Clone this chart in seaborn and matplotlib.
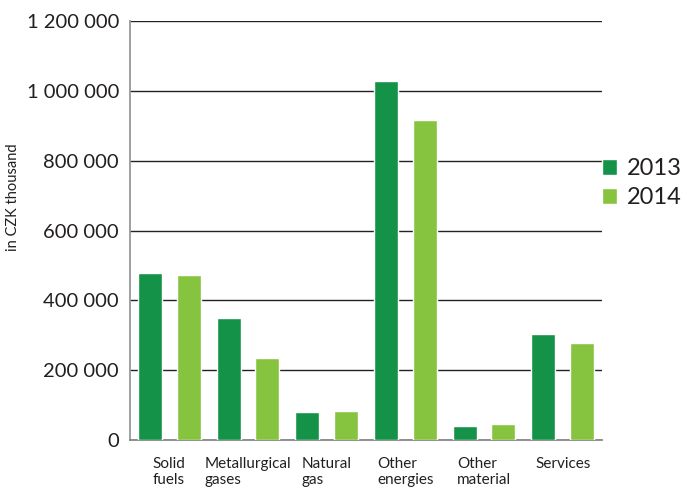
import pandas as pd
import matplotlib.pyplot as plt
import seaborn as sns
from matplotlib.ticker import FuncFormatter, MultipleLocator, FixedLocator

# Dados
categorias = ["Solid\nfuels", "Metallurgical\ngases", "Natural\ngas",
              "Other\nenergies", "Other\nmaterial", "Services"]
anos = ["2013", "2014"]
valores_2013 = [478000, 349000, 80000, 1028000, 40000, 303000]
valores_2014 = [472000, 235000, 83000, 916000, 46000, 278000]
cores = ["#149247", "#86c440"]

df = pd.DataFrame({
    "categoria": categorias * 2,
    "ano": [anos[0]] * len(categorias) + [anos[1]] * len(categorias),
    "valor": valores_2013 + valores_2014,
})

sns.set_theme(style="white")
plt.rcParams["font.family"] = ["Lato", "DejaVu Sans"]
COR_TEXTO = "#231f20"

fig = plt.figure(figsize=(6.82, 4.88), dpi=100)
ax = fig.add_axes([130 / 682, 1 - 440 / 488, 472 / 682, 419 / 488])

sns.barplot(data=df, x="categoria", y="valor", hue="ano", palette=cores,
            width=0.98, gap=0.38, saturation=1, ax=ax, zorder=3)

ax.set_xlim(-0.5, len(categorias) - 0.5)
ax.set_ylim(0, 1200000)
ax.yaxis.set_major_locator(MultipleLocator(200000))
ax.yaxis.set_major_formatter(FuncFormatter(lambda v, p: f"{int(v):,}".replace(",", " ")))
ax.grid(axis="y", color="#222222", linewidth=1.0, zorder=0)
ax.set_axisbelow(True)

for s in ["top", "right"]:
    ax.spines[s].set_visible(False)
ax.spines["left"].set_color("#999999")
ax.spines["bottom"].set_color("#888888")
ax.spines["left"].set_linewidth(1.3)
ax.spines["bottom"].set_linewidth(1.3)

ax.tick_params(axis="y", length=0, pad=8, labelsize=14.5, labelcolor=COR_TEXTO)
ax.tick_params(axis="x", which="major", length=0, pad=12, labelsize=11, labelcolor=COR_TEXTO)
ax.xaxis.set_minor_locator(FixedLocator([i - 0.5 for i in range(len(categorias) + 1)]))
ax.tick_params(axis="x", which="minor", direction="in", length=8, width=1.2, color="#444444")
for lbl in ax.get_xticklabels():
    lbl.set_multialignment("left")
    lbl.set_verticalalignment("top")

ax.set_xlabel("")
ax.set_ylabel("in CZK thousand", fontsize=10.5, color=COR_TEXTO)
ax.yaxis.set_label_coords(-0.233, 0.58)

# Legenda
handles, labels = ax.get_legend_handles_labels()
ax.legend(handles, labels, loc="upper left", bbox_to_anchor=(602 / 682, 1 - 158 / 488),
          bbox_transform=fig.transFigure, frameon=False, fontsize=17,
          handlelength=0.65, handleheight=0.65, handletextpad=0.4,
          labelspacing=0.35, borderpad=0, borderaxespad=0, labelcolor=COR_TEXTO)

plt.savefig("out.png", dpi=100)
